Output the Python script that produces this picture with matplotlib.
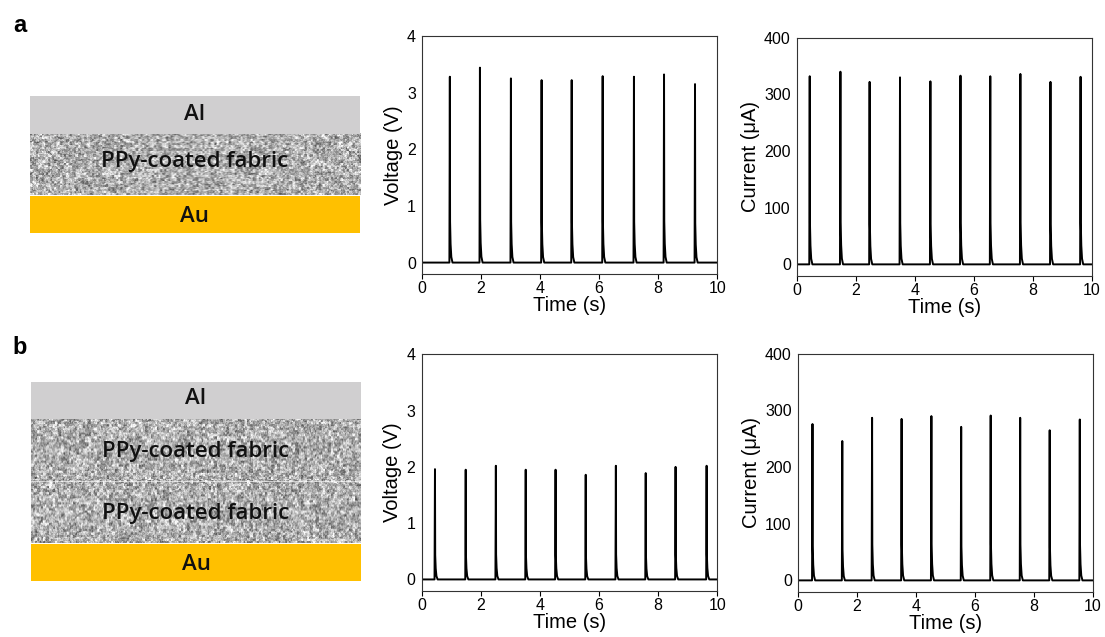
import numpy as np
import matplotlib
matplotlib.use("Agg")
import matplotlib.pyplot as plt
from matplotlib.patches import Rectangle

# peak times (s) and heights
volt_a_t = [0.94, 1.96, 3.01, 4.05, 5.07, 6.12, 7.18, 8.20, 9.25]
volt_a_h = [3.28, 3.44, 3.25, 3.22, 3.22, 3.29, 3.28, 3.32, 3.15]
curr_a_t = [0.43, 1.47, 2.46, 3.49, 4.52, 5.54, 6.55, 7.57, 8.59, 9.61]
curr_a_h = [332, 340, 322, 330, 323, 333, 332, 336, 322, 331]
volt_b_t = [0.45, 1.49, 2.51, 3.52, 4.53, 5.55, 6.57, 7.58, 8.59, 9.64]
volt_b_h = [1.96, 1.95, 2.02, 1.95, 1.95, 1.86, 2.02, 1.89, 2.00, 2.02]
curr_b_t = [0.49, 1.50, 2.51, 3.51, 4.52, 5.53, 6.53, 7.53, 8.53, 9.55]
curr_b_h = [276, 246, 287, 285, 290, 271, 291, 287, 265, 284]

layers_a = ["Al", "PPy-coated fabric", "Au"]
layers_b = ["Al", "PPy-coated fabric", "PPy-coated fabric", "Au"]

# spike outline relative to each peak (time offset, fraction of height)
spike_dt = [-0.015, 0.0, 0.008, 0.025, 0.05, 0.09]
spike_frac = [0.0, 1.0, 0.22, 0.10, 0.03, 0.0]

AL = "#d0cfd0"
AU = "#ffc000"

plt.rcParams["font.family"] = ["Liberation Sans", "DejaVu Sans"]

fig = plt.figure(figsize=(11.05, 6.37), dpi=100)

# background axes in pixel units for the layer sketches
bg = fig.add_axes([0, 0, 1, 1])
bg.set_xlim(0, 1105)
bg.set_ylim(637, 0)
bg.axis("off")


def hash_noise(i, j, a, b, c):
    return np.modf(np.abs(np.sin(i * a + j * b) * c))[0]


def fabric_texture(w, h, seed):
    # speckled grey texture, deterministic hash noise
    j, i = np.meshgrid(np.arange(w), np.arange(h))
    n1 = hash_noise(i + seed, j, 12.9898, 78.233, 43758.5453)
    n2 = hash_noise(i // 2 + seed, j // 2, 39.346, 11.135, 24634.6345)
    n3 = hash_noise(i // 3 + seed, j // 3, 7.131, 93.989, 17453.7631)
    g = 0.25 * n1 + 0.4 * n2 + 0.35 * n3
    return np.clip(0.69 + 0.8 * (g - 0.5), 0, 1)


def draw_stack(x0, x1, edges, names, label_y, seed):
    for k, name in enumerate(names):
        top, bot = edges[k], edges[k + 1]
        if name == "Al":
            bg.add_patch(Rectangle((x0, top), x1 - x0, bot - top, color=AL, lw=0))
        elif name == "Au":
            bg.add_patch(Rectangle((x0, top), x1 - x0, bot - top, color=AU, lw=0))
        else:
            tex = fabric_texture(int(x1 - x0), int(bot - top), seed + 37 * k)
            bg.imshow(tex, cmap="gray", vmin=0, vmax=1, extent=(x0, x1, bot, top),
                      interpolation="bilinear", aspect="auto")
        bg.text((x0 + x1) / 2, label_y[k], name, ha="center", va="center",
                fontsize=16, fontweight="semibold",
                family=["Open Sans", "DejaVu Sans"], color="#111111")


draw_stack(29.5, 360, [96, 133.5, 195.5, 232.5], layers_a, [115, 162, 216], 1)
draw_stack(31, 361, [382, 418.5, 481, 543.5, 581], layers_b, [398, 452, 513, 564], 500)
bg.plot([31, 361], [481, 481], color="white", lw=0.6, alpha=0.7)

fig.text(20 / 1105, 1 - 25 / 637, "a", fontsize=17, fontweight="bold", ha="center", va="center")
fig.text(20 / 1105, 1 - 348 / 637, "b", fontsize=17, fontweight="bold", ha="center", va="center")


def trace(times, heights):
    t = [0.0]
    y = [0.0]
    for tp, hp in zip(times, heights):
        for dt, fr in zip(spike_dt, spike_frac):
            t.append(tp + dt)
            y.append(hp * fr)
    t.append(10.0)
    y.append(0.0)
    return t, y


def panel(rect, times, heights, ymax, yticks, ylabel):
    ax = fig.add_axes(rect)
    t, y = trace(times, heights)
    ax.plot(t, y, color="black", lw=1.4)
    ax.set_xlim(0, 10)
    ax.set_ylim(-0.05 * ymax, ymax)
    ax.set_xticks([0, 2, 4, 6, 8, 10])
    ax.set_yticks(yticks)
    ax.tick_params(axis="x", direction="out", length=3.5, width=0.8, pad=1.5,
                   labelsize=11.5, top=False)
    ax.tick_params(axis="y", length=0, pad=4.5, labelsize=11.5, right=False)
    for s in ax.spines.values():
        s.set_linewidth(0.8)
        s.set_color("#333333")
    ax.set_xlabel("Time (s)", fontsize=14.5, labelpad=0)
    ax.set_ylabel(ylabel, fontsize=14.5, labelpad=3)
    return ax


panel([0.382, 0.570, 0.267, 0.3736], volt_a_t, volt_a_h, 4, [0, 1, 2, 3, 4], "Voltage (V)")
panel([0.7213, 0.5672, 0.267, 0.3736], curr_a_t, curr_a_h, 400, [0, 100, 200, 300, 400], "Current (\u03bcA)")
panel([0.3816, 0.0727, 0.2675, 0.371], volt_b_t, volt_b_h, 4, [0, 1, 2, 3, 4], "Voltage (V)")
panel([0.7222, 0.0711, 0.267, 0.3735], curr_b_t, curr_b_h, 400, [0, 100, 200, 300, 400], "Current (\u03bcA)")

fig.savefig("out.png", dpi=100)
